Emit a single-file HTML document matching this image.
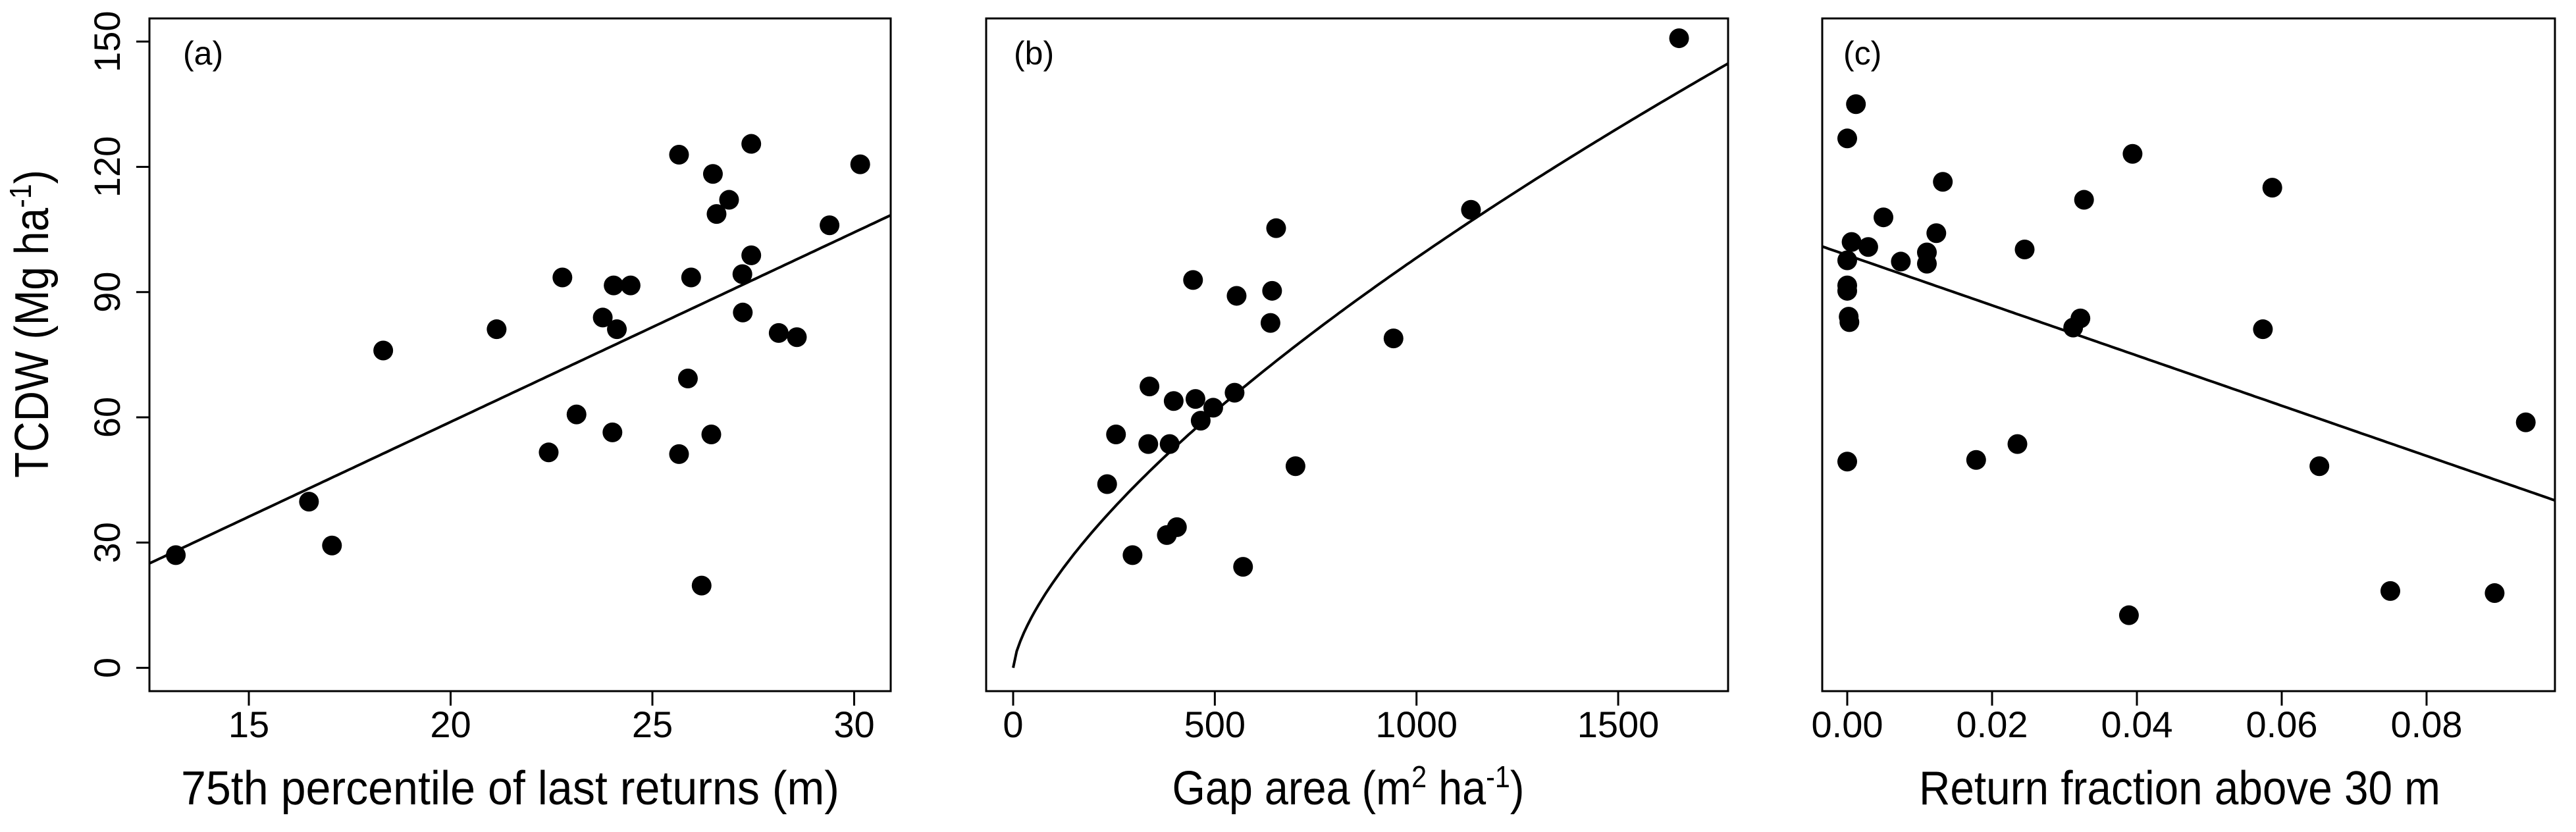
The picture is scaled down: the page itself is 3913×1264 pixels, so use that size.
<!DOCTYPE html>
<html><head><meta charset="utf-8"><style>
html,body{margin:0;padding:0;background:#fff;}
svg{display:block;}
text{font-family:"Liberation Sans",sans-serif;fill:#000;}
</style></head><body>
<svg id="chart" width="3913" height="1264" viewBox="0 0 3913 1264" xmlns="http://www.w3.org/2000/svg"></svg>
<script>
// Panel (a)
const aX = [13.19,16.49,17.06,18.33,21.14,22.77,22.43,23.12,23.77,24.04,24.12,24.46,24.01,25.66,25.66,25.96,25.88,26.22,26.46,26.50,26.59,26.90,27.23,27.24,27.45,27.45,28.13,28.58,29.39,30.15];
const aY = [27.0,39.8,29.3,76.0,81.1,93.5,51.6,60.7,83.9,91.6,81.1,91.6,56.4,122.9,51.2,93.5,69.3,19.7,55.9,118.3,108.7,112.1,94.3,85.1,98.8,125.5,80.2,79.2,106.0,120.6];
const aFit = [-31.9, 4.54]; // intercept, slope
const aTicks = [15,20,25,30];
// Panel (b)
const bX = [1651,1135,652,943,446,554,642,638,338,398,452,496,549,465,255,335,388,700,233,406,381,296,570];
const bY = [150.8,109.7,105.3,78.9,92.9,89.1,90.3,82.6,67.4,63.9,64.4,62.3,65.9,59.2,55.9,53.6,53.6,48.3,44.0,33.7,31.8,27.0,24.2];
const bFit = [0.908, 0.678]; // a, b in y = a*x^b
const bTicks = [0,500,1000,1500];
// Panel (c)
const cX = [0.0012,0.0,0.0394,0.0132,0.0587,0.0327,0.0050,0.0006,0.0029,0.0123,0.0245,0.0110,0.0110,0.0074,0.0,0.0,0.0,0.0002,0.0003,0.0322,0.0312,0.0574,0.0937,0.0235,0.0178,0.0,0.0652,0.0750,0.0894,0.0389];
const cY = [135.0,126.8,123.1,116.4,115.0,112.1,107.9,102.0,100.8,104.1,100.2,99.5,96.8,97.3,97.6,91.6,90.3,84.1,82.8,83.7,81.5,81.1,58.8,53.6,49.8,49.4,48.3,18.4,17.9,12.6];
const cFit = [98.84, -601];
const cTicks = [0,0.02,0.04,0.06,0.08];
const cTickLabels = ["0.00","0.02","0.04","0.06","0.08"];
const yTicks = [0,30,60,90,120,150];

const svg = document.getElementById('chart');
const NS = 'http://www.w3.org/2000/svg';
function mk(tag, attrs, parent){
  const e = document.createElementNS(NS, tag);
  for (const k in attrs) e.setAttribute(k, attrs[k]);
  (parent||svg).appendChild(e);
  return e;
}
const TOP = 28, BOT = 1050;
const yScale = v => 1014.6 - v * 6.343;

function panel(key, L, R, x0v, x0p, pxPerUnit, xs, ys, fitFn, xMin, xMax, ticks, tickLabels, title, titleLen, label, labelX){
  const xScale = v => x0p + (v - x0v) * pxPerUnit;
  const g = mk('g', {});
  
  
  const box = mk('rect', {x:L, y:TOP, width:R-L, height:BOT-TOP, fill:'none', stroke:'#000', 'stroke-width':3}, g);
  
  
  ticks.forEach((t, i) => {
    const x = xScale(t);
    const tk = mk('line', {x1:x, x2:x, y1:BOT, y2:BOT+22, stroke:'#000', 'stroke-width':3}, g);
    
    
    const tl = mk('text', {x:x, y:1120, 'font-size':56, 'text-anchor':'middle'}, g);
    tl.textContent = tickLabels ? tickLabels[i] : String(t);
    
    
  });
  // fit line
  let d = '';
  const N = 200;
  for (let i = 0; i <= N; i++){
    const xv = xMin + (xMax - xMin) * i / N;
    const yv = fitFn(xv);
    d += (i ? 'L' : 'M') + xScale(xv).toFixed(1) + ',' + yScale(yv).toFixed(1);
  }
  const cp = mk('clipPath', {id:'clip-' + key}, g);
  mk('rect', {x:L, y:TOP, width:R-L, height:BOT-TOP}, cp);
  const fl = mk('path', {d:d, fill:'none', stroke:'#000', 'stroke-width':4, 'clip-path':'url(#clip-' + key + ')'}, g);
  
  
  xs.forEach((xv, i) => {
    const c = mk('circle', {cx:xScale(xv), cy:yScale(ys[i]), r:15, fill:'#000'}, g);
    
    
  });
  const pl = mk('text', {x:labelX, y:98, 'font-size':50}, g);
  pl.textContent = label;
  
  
  const tt = mk('text', {x:(title.cx), y:1222, 'font-size':72, 'text-anchor':'middle', textLength:titleLen, lengthAdjust:'spacingAndGlyphs'}, g);
  tt.innerHTML = title.html;
  
  
}

panel('a', 227, 1353, 15, 378, 61.3, aX, aY, x => aFit[0] + aFit[1]*x, 12.5, 30.95, aTicks, null,
  {cx:775, html:'75th  percentile of last returns (m)'}, 1000, '(a)', 278);
panel('b', 1498, 2625, 0, 1539, 0.6127, bX, bY, x => bFit[0]*Math.pow(Math.max(x,0), bFit[1]), 0, 1775, bTicks, null,
  {cx:2048, html:'Gap area (m<tspan font-size="46" dy="-26">2</tspan><tspan dy="26"> ha</tspan><tspan font-size="46" dy="-26">-1</tspan><tspan dy="26">)</tspan>'}, 535, '(b)', 1540);
panel('c', 2768, 3881, 0, 2806, 11000, cX, cY, x => cFit[0] + cFit[1]*x, -0.0035, 0.0978, cTicks, cTickLabels,
  {cx:3311, html:'Return fraction above 30 m'}, 792, '(c)', 2800);

// shared y axis on panel (a)
yTicks.forEach(t => {
  const y = yScale(t);
  const tk = mk('line', {x1:207, x2:227, y1:y, y2:y, stroke:'#000', 'stroke-width':3});
  
  
  const tl = mk('text', {x:0, y:0, 'font-size':56, 'text-anchor':'middle', transform:'translate(182,' + y + ') rotate(-90)'});
  tl.textContent = String(t);
  
  
});
const yt = mk('text', {x:0, y:0, 'font-size':72, 'text-anchor':'middle', transform:'translate(73,492) rotate(-90)', textLength:468, lengthAdjust:'spacingAndGlyphs'});
yt.innerHTML = 'TCDW (Mg ha<tspan font-size="46" dy="-26">-1</tspan><tspan dy="26">)</tspan>';


</script>
</body></html>
